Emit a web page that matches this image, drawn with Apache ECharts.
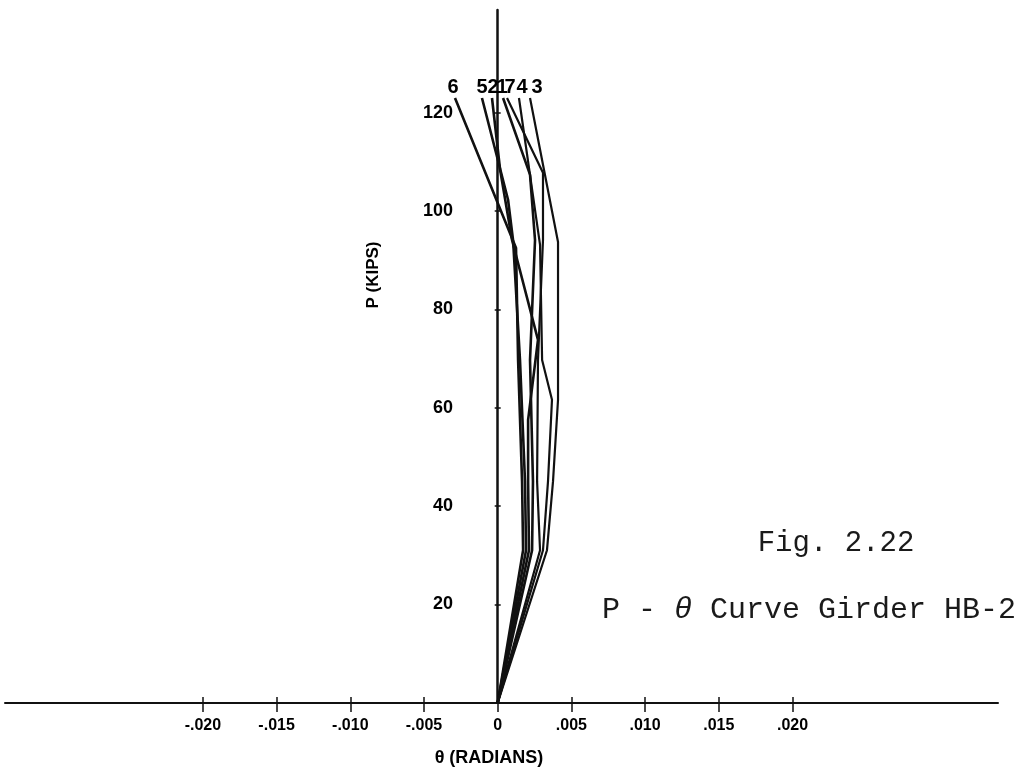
<!DOCTYPE html>
<html>
<head>
<meta charset="utf-8">
<script src="https://cdn.jsdelivr.net/npm/echarts@6/dist/echarts.min.js"></script>
<style>
  html, body { margin: 0; padding: 0; background: #fff; }
  #chart { width: 1019px; height: 772px; }
</style>
</head>
<body>
<div id="chart"></div>
<script>
// P - theta curves, girder HB-2 (theta in radians, P in kips)
var gauge6 = [[0, 0], [0.00172, 31], [0.00165, 45], [0.00138, 69.7], [0.00124, 92.5]]
var gauge5 = [[0, 0], [0.00192, 31], [0.00185, 45], [0.00151, 69.7], [0.00104, 94.1], [0.00070, 102.3]]
var gauge2 = [[0, 0], [0.00212, 31], [0.00206, 45], [0.00206, 57.5], [0.00273, 73.8], [0.00097, 94.1], [0.00016, 108.4]]
var gauge1 = [[0, 0], [0.00233, 31], [0.00239, 45], [0.00219, 69.7], [0.00253, 94.1], [0.00219, 107.4]]
var gauge7 = [[0, 0], [0.00287, 31], [0.00267, 45], [0.00273, 69.7], [0.00307, 94.1], [0.00307, 107.8]]
var gauge4 = [[0, 0], [0.00307, 31], [0.00341, 45], [0.00368, 61.6], [0.00301, 69.7], [0.00287, 93.1]]
var gauge3 = [[0, 0], [0.00334, 31], [0.00375, 45], [0.00409, 61.6], [0.00409, 93.7]]

// where each leader line starts, and where its number sits
var gaugeNames = ['6', '5', '2', '1', '7', '4', '3']
var leaderStart = [[-0.00290, 123], [-0.00107, 123], [-0.00039, 123], [0.00036, 123], [0.00063, 123], [0.00144, 123], [0.00219, 123]]
var nameAt = [[-0.00303, 123], [-0.00107, 123], [-0.00032, 123], [0.00029, 123], [0.00083, 123], [0.00165, 123], [0.00267, 123]]

var xTickMin = -0.020, xTickMax = 0.020, xTickStep = 0.005
var yTickMin = 0, yTickMax = 120, yTickStep = 20

var curves = [gauge6, gauge5, gauge2, gauge1, gauge7, gauge4, gauge3]
var ink = '#111'

var series = curves.map(function (pts, i) {
    return {
        name: gaugeNames[i],
        type: 'line',
        xAxisIndex: 0,
        yAxisIndex: 0,
        symbol: 'none',
        animation: false,
        lineStyle: { color: ink, width: i < 4 ? 2.6 : 2.2 },
        data: pts.concat([leaderStart[i]])
    }
})
series.push({
    type: 'scatter',
    xAxisIndex: 0,
    yAxisIndex: 0,
    symbolSize: 0,
    animation: false,
    silent: true,
    itemStyle: { opacity: 1, color: '#000' },
    label: {
        show: true,
        position: 'top',
        distance: 1,
        color: '#000',
        fontFamily: 'Liberation Sans',
        fontWeight: 'bold',
        fontSize: 20,
        formatter: function (p) { return p.data[2] }
    },
    data: nameAt.map(function (p, i) { return [p[0], p[1], gaugeNames[i]] })
})

var option = {
    backgroundColor: '#fff',
    animation: false,
    grid: [
        { left: 5, right: 21, top: 10, bottom: 69.4 },
        { left: 202.9, right: 226.5, top: 600, bottom: 75 },
        { left: 500.7, width: 10, top: 112.8, bottom: 69.4 }
    ],
    xAxis: [{
        gridIndex: 0,
        type: 'value',
        min: -0.03343,
        max: 0.03394,
        axisLine: { show: true, lineStyle: { color: ink, width: 2 } },
        axisTick: { show: false },
        axisLabel: { show: false },
        splitLine: { show: false }
    }, {
        gridIndex: 1,
        type: 'value',
        min: xTickMin,
        max: xTickMax,
        interval: xTickStep,
        position: 'bottom',
        axisLine: { show: false, onZero: false },
        axisTick: { show: true, length: 15, lineStyle: { color: ink, width: 1.5 } },
        axisLabel: {
            margin: 21,
            color: '#000',
            fontFamily: 'Liberation Sans',
            fontWeight: 'bold',
            fontSize: 16,
            formatter: function (v) {
                if (Math.abs(v) < 1e-9) return '0'
                return (v < 0 ? '-' : '') + Math.abs(v).toFixed(3).replace(/^0/, '')
            }
        },
        splitLine: { show: false }
    }, {
        gridIndex: 2,
        type: 'value',
        min: 0,
        max: 1,
        show: false
    }],
    yAxis: [{
        gridIndex: 0,
        type: 'value',
        min: 0,
        max: 140.9,
        axisLine: { show: true, lineStyle: { color: ink, width: 2.5 } },
        axisTick: { show: false },
        axisLabel: { show: false },
        splitLine: { show: false }
    }, {
        gridIndex: 1,
        type: 'value',
        min: 0,
        max: 1,
        show: false
    }, {
        gridIndex: 2,
        type: 'value',
        min: yTickMin,
        max: yTickMax,
        interval: yTickStep,
        axisLine: { show: false, onZero: false },
        axisTick: { show: true, length: 6, lineStyle: { color: ink, width: 1.5 } },
        axisLabel: {
            margin: 47.7,
            color: '#000',
            fontFamily: 'Liberation Sans',
            fontWeight: 'bold',
            fontSize: 18,
            formatter: function (v) { return v === 0 ? '' : String(v) }
        },
        splitLine: { show: false }
    }],
    graphic: [{
        type: 'text',
        x: 489, y: 758,
        style: {
            text: 'θ (RADIANS)',
            fill: '#000',
            font: 'bold 18px "Liberation Sans"',
            textAlign: 'center',
            textVerticalAlign: 'middle'
        }
    }, {
        type: 'text',
        x: 373, y: 275,
        rotation: Math.PI / 2,
        style: {
            text: 'P (KIPS)',
            fill: '#000',
            font: 'bold 17px "Liberation Sans"',
            textAlign: 'center',
            textVerticalAlign: 'middle'
        }
    }, {
        type: 'text',
        x: 836, y: 543,
        style: {
            text: 'Fig. 2.22',
            fill: '#1a1a1a',
            font: '29px "Liberation Mono"',
            textAlign: 'center',
            textVerticalAlign: 'middle'
        }
    }, {
        type: 'text',
        x: 602, y: 610,
        style: {
            text: 'P - {i|θ} Curve Girder HB-2',
            fill: '#1a1a1a',
            font: '30px "Liberation Mono"',
            textAlign: 'left',
            textVerticalAlign: 'middle',
            rich: {
                i: { fontStyle: 'italic', fontFamily: 'Liberation Mono', fontSize: 30, fill: '#1a1a1a' }
            }
        }
    }],
    series: series
}

var myChart = echarts.init(document.getElementById('chart'))
myChart.setOption(option)
</script>
</body>
</html>
